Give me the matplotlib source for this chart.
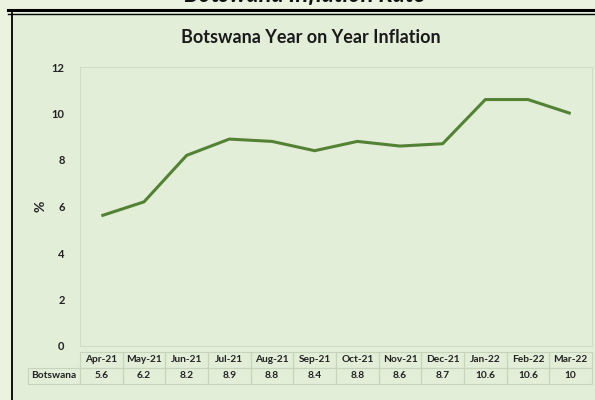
import matplotlib.pyplot as plt
from matplotlib.lines import Line2D
from matplotlib.patches import Rectangle

# Dane: inflacja r/r w Botswanie
miesiace = ['Apr-21', 'May-21', 'Jun-21', 'Jul-21', 'Aug-21', 'Sep-21',
            'Oct-21', 'Nov-21', 'Dec-21', 'Jan-22', 'Feb-22', 'Mar-22']
inflacja = [5.6, 6.2, 8.2, 8.9, 8.8, 8.4, 8.8, 8.6, 8.7, 10.6, 10.6, 10]
seria = 'Botswana'

plt.rcParams['font.family'] = ['Lato', 'DejaVu Sans']

W, H = 595, 400
fig = plt.figure(figsize=(W / 100, H / 100), dpi=100)
fig.patch.set_facecolor('#ebf2e0')

# Panel wykresu z ramka
fig.add_artist(Rectangle((12 / W, 0), 1, 1 - 13 / H, transform=fig.transFigure,
                         facecolor='#e2eed8', edgecolor='none', zorder=-5))
fig.add_artist(Line2D([11.5 / W, 11.5 / W], [0, 1 - 13 / H], color='black', lw=1.3))
fig.add_artist(Line2D([8 / W, 1], [1 - 10 / H, 1 - 10 / H], color='black', lw=2.2))
fig.add_artist(Line2D([8 / W, 1], [1 - 13.5 / H, 1 - 13.5 / H], color='black', lw=1))

# Naglowek strony (przyciety u gory)
fig.text(305 / W, 1 - 2 / H, 'Botswana Inflation Rate', ha='center', va='baseline',
         fontsize=17, fontweight='bold', fontstyle='italic', color='#111111')

ax = fig.add_axes([80 / W, 1 - 346 / H, 512 / W, 279 / H])
ax.set_facecolor('#e2eed8')
x = range(len(miesiace))
ax.plot(x, inflacja, color='#548235', lw=2.2, solid_capstyle='butt')
ax.set_xlim(-0.5, len(miesiace) - 0.5)
ax.set_ylim(0, 12)
ax.set_yticks(range(0, 13, 2))
ax.set_xticks([])
ax.tick_params(axis='y', length=0, pad=11, labelsize=8, labelcolor='#222222')
for lbl in ax.get_yticklabels():
    lbl.set_fontweight('bold')
for s in ax.spines.values():
    s.set_color('#d0dcc6')
    s.set_linewidth(0.8)
ax.set_ylabel('%', fontsize=10, fontweight='bold', color='#222222', labelpad=4)

ax.set_title('Botswana Year on Year Inflation', fontsize=13, fontweight='bold',
             color='#1a1a1a', x=0.45, pad=17)

# Tabela danych pod wykresem
lab_w = 52 / 512
tab = ax.table(cellText=[[''] + miesiace, [seria] + [f'{v:g}' for v in inflacja]],
               cellLoc='center',
               colWidths=[lab_w] + [1 / 12] * 12,
               bbox=[-lab_w, -0.136, 1 + lab_w, 0.115])
tab.auto_set_font_size(False)
for (r, c), cell in tab.get_celld().items():
    cell.set_facecolor('none')
    cell.set_edgecolor('#c6d4bb')
    cell.set_linewidth(0.8)
    cell.get_text().set_fontsize(7.3)
    cell.get_text().set_fontweight('bold')
    cell.get_text().set_color('#222222')
    if r == 0 and c == 0:
        cell.set_edgecolor('none')

fig.savefig('out.png', dpi=100, facecolor=fig.get_facecolor())
